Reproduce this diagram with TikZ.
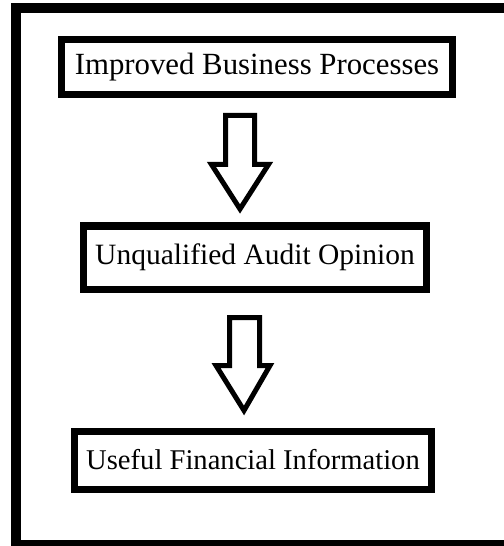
\documentclass[tikz,border=0pt]{standalone}
\usepackage{fontspec}
\setmainfont{Liberation Serif}
\begin{document}
\begin{tikzpicture}[x=1bp,y=-1bp,
  box/.style={draw=black,line width=7bp,rectangle,inner sep=0pt,line join=miter},
  fs/.style={font=\fontsize{#1}{#1}\selectfont},
  blockarrow/.style={draw=black,line width=5bp,line join=miter,fill=white}]
\useasboundingbox (0,0) rectangle (504,546);
\clip (0,0) rectangle (504,546);
\fill[white] (0,0) rectangle (504,546);
\draw[line width=10bp] (16,8) rectangle (512,545);
\node[box,fs=30.8bp,minimum width=391bp,minimum height=55bp] (b1) at (257,67.5) {Improved Business Processes};
\node[box,fs=29.5bp,minimum width=342bp,minimum height=63bp] (b2) at (255,257.5) {Unqualified Audit Opinion};
\node[box,fs=28.6bp,minimum width=357bp,minimum height=58bp] (b3) at (253,460) {Useful Financial Information};
\draw[blockarrow] (225.5,115.5) -- (254.5,115.5) -- (254.5,164.5) -- (268.5,164.5) -- (240,209) -- (211.5,164.5) -- (225.5,164.5) -- cycle;
\draw[blockarrow] (229.5,317.5) -- (259.5,317.5) -- (259.5,365.5) -- (270,365.5) -- (244,410.5) -- (216,365.5) -- (229.5,365.5) -- cycle;
\end{tikzpicture}
\end{document}
